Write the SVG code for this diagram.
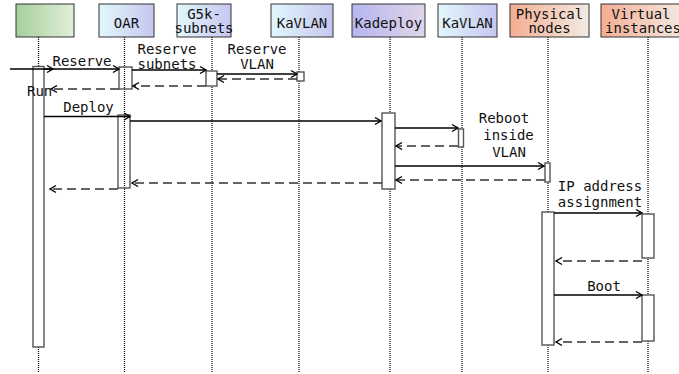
<svg xmlns="http://www.w3.org/2000/svg" width="679" height="374" viewBox="0 0 679 374">
<defs>
<linearGradient id="gGreen" x1="0" y1="0" x2="1" y2="0"><stop offset="0" stop-color="#a6cf9c"/><stop offset="1" stop-color="#e2eed9"/></linearGradient>
<linearGradient id="gBlue" x1="0" y1="0" x2="1" y2="0"><stop offset="0" stop-color="#e2f8fc"/><stop offset="1" stop-color="#c6c6ef"/></linearGradient>
<linearGradient id="gPurple" x1="0" y1="0" x2="1" y2="0"><stop offset="0" stop-color="#b6b6ef"/><stop offset="1" stop-color="#dfd5e8"/></linearGradient>
<linearGradient id="gSalmon" x1="0" y1="0" x2="1" y2="0"><stop offset="0" stop-color="#f4ad93"/><stop offset="1" stop-color="#f2ebe3"/></linearGradient>
<marker id="arr" markerWidth="10" markerHeight="10" refX="7" refY="5" orient="auto" markerUnits="userSpaceOnUse">
<path d="M1,1.5 L7,5 L1,8.5" fill="none" stroke="#000" stroke-width="1.4" stroke-dasharray="none"/>
</marker>
</defs>
<style>
.hdr{stroke:#333;stroke-width:1}
.t{font-family:"DejaVu Sans Mono",monospace;font-size:14px;fill:#111;text-anchor:middle}
.life{stroke:#000;stroke-width:1.2;stroke-dasharray:1,1;fill:none}
.act{fill:#fff;stroke:#555;stroke-width:1.4}
.actn{fill:none;stroke:#555;stroke-width:1.4}
.msg{stroke:#000;stroke-width:1.3;fill:none;marker-end:url(#arr)}
.ret{stroke:#333;stroke-width:1.6;fill:none;stroke-dasharray:9,5;marker-end:url(#arr)}
</style>

<g id="node-user">
<rect class="hdr" x="16" y="4" width="58" height="33" fill="url(#gGreen)"/>
<line class="life" x1="38.5" y1="37" x2="38.5" y2="372"/>
<rect class="act" x="33" y="66.5" width="11" height="280.5"/>
</g>
<g id="node-oar">
<rect class="hdr" x="99" y="4" width="55" height="33" fill="url(#gBlue)"/>
<text class="t" x="126.5" y="28">OAR</text>
<line class="life" x1="124.5" y1="37" x2="124.5" y2="372"/>
<rect class="actn" x="119" y="67" width="13" height="22"/>
<rect class="actn" x="118" y="115" width="12" height="73"/>
</g>
<g id="node-g5k">
<rect class="hdr" x="177" y="4" width="54" height="33" fill="url(#gBlue)"/>
<text class="t" x="204" y="18.5">G5k-</text>
<text class="t" x="204" y="33">subnets</text>
<line class="life" x1="212" y1="37" x2="212" y2="372"/>
<rect class="act" x="206" y="71" width="11" height="15"/>
</g>
<g id="node-kavlan1">
<rect class="hdr" x="271" y="4" width="62" height="33" fill="url(#gBlue)"/>
<text class="t" x="302" y="28">KaVLAN</text>
<line class="life" x1="299" y1="37" x2="299" y2="372"/>
<rect class="act" x="297" y="72" width="7" height="9"/>
</g>
<g id="node-kadeploy">
<rect class="hdr" x="352" y="4" width="73" height="33" fill="url(#gPurple)"/>
<text class="t" x="388.5" y="28">Kadeploy</text>
<line class="life" x1="390" y1="37" x2="390" y2="372"/>
<rect class="act" x="382" y="113" width="13" height="76"/>
</g>
<g id="node-kavlan2">
<rect class="hdr" x="438" y="4" width="59" height="33" fill="url(#gBlue)"/>
<text class="t" x="467.5" y="28">KaVLAN</text>
<line class="life" x1="462" y1="37" x2="462" y2="372"/>
<rect class="act" x="458.5" y="129" width="5" height="18"/>
</g>
<g id="node-physical">
<rect class="hdr" x="510" y="4" width="79" height="33" fill="url(#gSalmon)"/>
<text class="t" x="549.5" y="18.5">Physical</text>
<text class="t" x="549.5" y="33">nodes</text>
<line class="life" x1="548" y1="37" x2="548" y2="372"/>
<rect class="act" x="545" y="163" width="5" height="19"/>
<rect class="act" x="542" y="212" width="12" height="133"/>
</g>
<g id="node-virtual">
<rect class="hdr" x="601" y="4" width="84" height="33" fill="url(#gSalmon)"/>
<text class="t" x="641" y="18.5">Virtual</text>
<text class="t" x="643" y="33">instances</text>
<line class="life" x1="648" y1="37" x2="648" y2="372"/>
<rect class="act" x="642" y="214" width="12" height="44"/>
<rect class="act" x="642" y="295" width="12" height="46"/>
</g>

<g id="connectors">
<line class="msg" x1="10" y1="69" x2="53" y2="69"/>
<line class="msg" x1="44" y1="69" x2="119" y2="69"/>
<line class="msg" x1="132" y1="70" x2="206" y2="70"/>
<line class="msg" x1="217" y1="74" x2="297" y2="74"/>
<line class="ret" x1="297" y1="79" x2="218" y2="79"/>
<line class="ret" x1="206" y1="86" x2="133" y2="86"/>
<line class="ret" x1="119" y1="89" x2="51" y2="89"/>
<line class="msg" x1="44" y1="116.5" x2="130" y2="116.5"/>
<line class="msg" x1="130" y1="121" x2="381" y2="121"/>
<line class="msg" x1="395" y1="128" x2="458" y2="128"/>
<line class="ret" x1="458" y1="146" x2="396" y2="146"/>
<line class="msg" x1="395" y1="166" x2="544" y2="166"/>
<line class="ret" x1="545" y1="180" x2="396" y2="180"/>
<line class="ret" x1="382" y1="183" x2="132" y2="183"/>
<line class="ret" x1="118" y1="189" x2="50" y2="189"/>
<line class="msg" x1="554" y1="213" x2="642" y2="213"/>
<line class="ret" x1="642" y1="261" x2="556" y2="261"/>
<line class="msg" x1="554" y1="295" x2="642" y2="295"/>
<line class="ret" x1="642" y1="342" x2="556" y2="342"/>
</g>

<g id="labels">
<text class="t" x="82" y="66">Reserve</text>
<text class="t" x="167" y="54">Reserve</text>
<text class="t" x="167" y="68.5">subnets</text>
<text class="t" x="257" y="54">Reserve</text>
<text class="t" x="257" y="68.5">VLAN</text>
<text class="t" x="27" y="96" style="text-anchor:start">Run</text>
<text class="t" x="88.5" y="112">Deploy</text>
<text class="t" x="504" y="123">Reboot</text>
<text class="t" x="508.5" y="139.5">inside</text>
<text class="t" x="509" y="157">VLAN</text>
<text class="t" x="600" y="190.5">IP address</text>
<text class="t" x="600" y="206.5">assignment</text>
<text class="t" x="604" y="291">Boot</text>
</g>
</svg>
